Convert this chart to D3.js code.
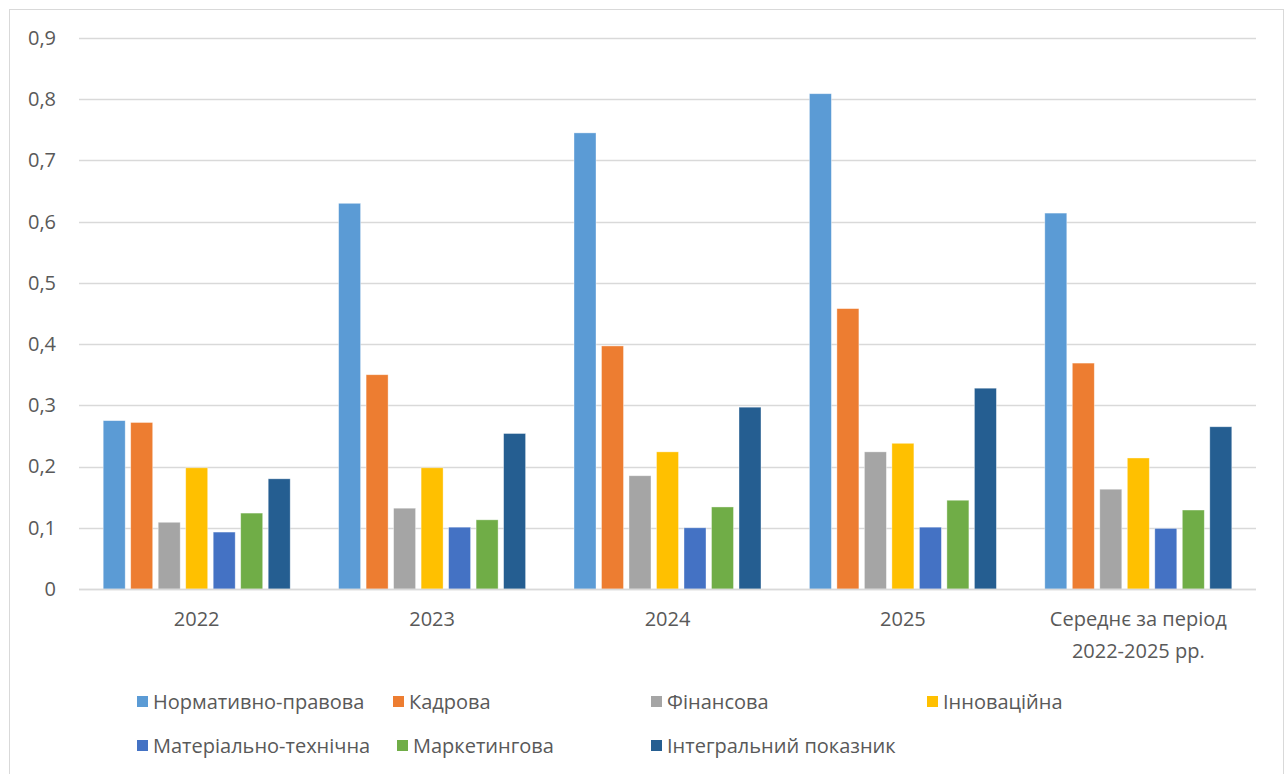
<!DOCTYPE html>
<html>
<head>
<meta charset="utf-8">
<script src="https://cdn.jsdelivr.net/npm/d3@7"></script>
<style>
  body { margin: 0; background: #fff; }
  text { font-family: "Open Sans", "Liberation Sans", sans-serif; fill: #595959; }
</style>
</head>
<body>
<svg id="chart" width="1287" height="774"></svg>
<script>
'use strict';

const categories = ['2022', '2023', '2024', '2025', 'Середнє за період|2022-2025 рр.'];
const series = ['Нормативно-правова', 'Кадрова', 'Фінансова', 'Інноваційна',
  'Матеріально-технічна', 'Маркетингова', 'Інтегральний показник'];
const colors = ['#5B9BD5', '#ED7D31', '#A5A5A5', '#FFC000', '#4472C4', '#70AD47', '#255E91'];
// one row per series, one value per category
const normative = [0.275, 0.630, 0.745, 0.809, 0.614];
const staffing = [0.272, 0.350, 0.397, 0.458, 0.369];
const financial = [0.109, 0.132, 0.185, 0.224, 0.163];
const innovation = [0.198, 0.198, 0.224, 0.238, 0.214];
const material = [0.093, 0.101, 0.100, 0.101, 0.099];
const marketing = [0.124, 0.113, 0.134, 0.145, 0.129];
const integral = [0.180, 0.254, 0.297, 0.328, 0.265];
const yTicks = [0, 0.1, 0.2, 0.3, 0.4, 0.5, 0.6, 0.7, 0.8, 0.9];

const values = [normative, staffing, financial, innovation, material, marketing, integral];

const svg = d3.select('#chart');
const fontSize = 20;

// outer chart frame
svg.append('rect')
  .attr('x', 9.5).attr('y', 9.5)
  .attr('width', 1274).attr('height', 800)
  .attr('fill', '#fff')
  .attr('stroke', '#d9d9d9')
  .attr('stroke-width', 1);

const plot = { left: 79, right: 1256, top: 38, bottom: 589 };

const x0 = d3.scaleBand()
  .domain(categories)
  .range([plot.left, plot.right]);

const x1 = d3.scaleBand()
  .domain(series)
  .range([0, 187])
  .paddingInner(0.2);

const y = d3.scaleLinear()
  .domain([0, 0.9])
  .range([plot.bottom, plot.top]);

// gridlines
svg.append('g')
  .selectAll('line')
  .data(yTicks)
  .enter().append('line')
  .attr('x1', plot.left).attr('x2', plot.right)
  .attr('y1', d => Math.round(y(d)) + 0.5)
  .attr('y2', d => Math.round(y(d)) + 0.5)
  .attr('stroke', '#d9d9d9')
  .attr('stroke-width', 1.5);

// y axis labels
const yAxis = d3.axisLeft(y)
  .tickValues(yTicks)
  .tickSize(0)
  .tickPadding(23)
  .tickFormat(d => d === 0 ? '0' : String(d).replace('.', ','));

svg.append('g')
  .attr('transform', `translate(${plot.left}, 0)`)
  .call(yAxis)
  .call(g => g.select('.domain').remove())
  .selectAll('text')
  .attr('font-size', fontSize)
  .attr('font-family', '"Open Sans", sans-serif')
  .attr('fill', '#595959');

// bars
const groups = svg.append('g')
  .selectAll('g')
  .data(categories)
  .enter().append('g')
  .attr('transform', d => `translate(${x0(d) + (x0.bandwidth() - 187) / 2}, 0)`);

groups.selectAll('rect')
  .data((d, ci) => series.map((s, si) => ({ s: s, v: values[si][ci], c: colors[si] })))
  .enter().append('rect')
  .attr('x', d => x1(d.s))
  .attr('width', x1.bandwidth())
  .attr('y', d => y(d.v))
  .attr('height', d => y(0) - y(d.v))
  .attr('fill', d => d.c)
  .attr('stroke', '#fff')
  .attr('stroke-opacity', 0.5)
  .attr('stroke-width', 0.75);

// x axis line
svg.append('line')
  .attr('x1', plot.left).attr('x2', plot.right)
  .attr('y1', plot.bottom + 0.5).attr('y2', plot.bottom + 0.5)
  .attr('stroke', '#d9d9d9')
  .attr('stroke-width', 1.5);

// category labels (split on |)
svg.append('g')
  .selectAll('text')
  .data(categories)
  .enter().append('text')
  .attr('x', d => x0(d) + x0.bandwidth() / 2)
  .attr('y', 626)
  .attr('text-anchor', 'middle')
  .attr('font-size', fontSize)
  .each(function (d) {
    const lines = d.split('|');
    const t = d3.select(this);
    lines.forEach((l, i) => {
      t.append('tspan')
        .attr('x', x0(d) + x0.bandwidth() / 2)
        .attr('dy', i === 0 ? 0 : 32)
        .text(l);
    });
  });

// legend
const legendPos = [[137, 702], [393, 702], [651, 702], [927, 702],
  [137, 746], [397, 746], [651, 746]];

const legend = svg.append('g')
  .selectAll('g')
  .data(series)
  .enter().append('g')
  .attr('transform', (d, i) => `translate(${legendPos[i][0]}, ${legendPos[i][1]})`);

legend.append('rect')
  .attr('x', 0).attr('y', -6)
  .attr('width', 11).attr('height', 11)
  .attr('fill', (d, i) => colors[i]);

legend.append('text')
  .attr('x', 16)
  .attr('y', 7)
  .attr('font-size', fontSize)
  .text(d => d);
</script>
</body>
</html>
